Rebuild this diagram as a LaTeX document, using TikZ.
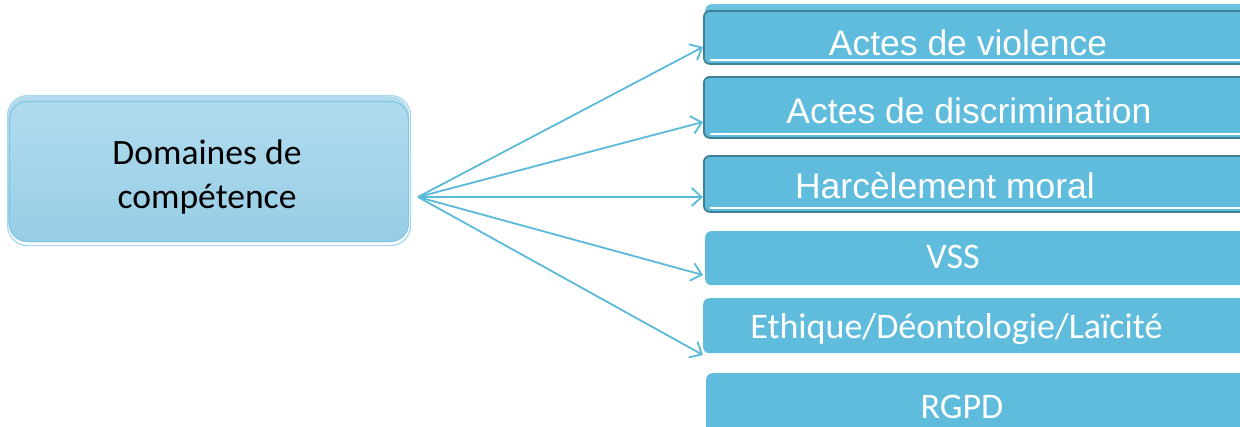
\documentclass[tikz,border=0pt]{standalone}
\usepackage{fontspec}
\setmainfont{Carlito}
\newfontfamily\arialf{Liberation Sans}
\usetikzlibrary{arrows.meta}
\definecolor{boxblue}{HTML}{5FBCDC}
\definecolor{boxdark}{HTML}{3E8096}
\definecolor{boxglow}{HTML}{6CC2E0}
\definecolor{arrowblue}{HTML}{5BB9DA}
\definecolor{srctop}{HTML}{B2DBED}
\definecolor{srcbot}{HTML}{96CEE6}
\definecolor{srcedge}{HTML}{7FC6E2}
\tikzset{
  srcbox/.style={rectangle, rounded corners=20pt, top color=srctop, bottom color=srcbot, draw=none, anchor=north west},
  srcline/.style={rectangle, rounded corners=18pt, draw=srcedge, line width=1pt, anchor=north west},
  srcglow/.style={rectangle, rounded corners=20pt, fill=white, draw=srcedge!70, line width=1.2pt, anchor=north west},
  darkbox/.style={rectangle, rounded corners=6pt, fill=boxblue, draw=boxdark, line width=1.8pt, anchor=north west},
  plainbox/.style={rectangle, rounded corners=6pt, fill=boxblue, draw=none, anchor=north west},
  glowbox/.style={rectangle, rounded corners=6pt, fill=boxglow, draw=none, anchor=north west},
  hilite/.style={draw=white, line width=1.2pt},
  arialtxt/.style={text=white, font=\arialf\fontsize{35.5pt}{40pt}\selectfont, anchor=base, inner sep=0pt},
  calitxt/.style={text=white, font=\fontsize{36pt}{42pt}\selectfont, anchor=base, inner sep=0pt},
  srctxt/.style={text=black, font=\fontsize{35.6pt}{44pt}\selectfont, align=center, inner sep=0pt},
  conn/.style={draw=arrowblue, line width=1.8pt, -{Straight Barb[length=10pt,width=18pt,line width=1.8pt]}}
}
\begin{document}
\begin{tikzpicture}[x=1pt,y=-1pt]
\useasboundingbox (0,0) rectangle (1240,426);
\clip (0,0) rectangle (1240,426);
\fill[white] (0,0) rectangle (1240,426);
% source box
\node[srcglow, minimum width=403pt, minimum height=150pt] (srcg) at (7,95) {};
\node[srcbox, minimum width=401pt, minimum height=146pt] (src) at (8,96) {};
\node[srcline, minimum width=399pt, minimum height=140pt] (srcl) at (9,101) {};
\node[srctxt] (srct) at (207,177) {Domaines de\\compétence};
% target boxes
\node[glowbox, minimum width=545pt, minimum height=50pt] (g1) at (705,4) {};
\node[darkbox, minimum width=550pt, minimum height=53pt] (b1) at (703,10) {};
\draw[hilite] (710,60) -- (1245,60);
\node[darkbox, minimum width=550pt, minimum height=61pt] (b2) at (703,76) {};
\draw[hilite] (710,134) -- (1245,134);
\node[darkbox, minimum width=550pt, minimum height=56pt] (b3) at (703,155) {};
\draw[hilite] (710,208) -- (1245,208);
\node[plainbox, minimum width=550pt, minimum height=54pt] (b4) at (705,231) {};
\node[plainbox, minimum width=550pt, minimum height=55pt] (b5) at (703,298) {};
\node[plainbox, minimum width=550pt, minimum height=70pt] (b6) at (706,373) {};
% texts
\node[arialtxt] (t1) at (968,55) {Actes de violence};
\node[arialtxt] (t2) at (969,123) {Actes de discrimination};
\node[arialtxt] (t3) at (945,198) {Harcèlement moral};
\node[calitxt] (t4) at (953,268) {VSS};
\node[calitxt] (t5) at (956.5,338) {Ethique/Déontologie/Laïcité};
\node[calitxt] (t6) at (962,418) {RGPD};
% connectors
\coordinate (s) at (418,197);
\coordinate (e1) at (703,47);
\coordinate (e2) at (703,122);
\coordinate (e3) at (703,197);
\coordinate (e4) at (703,275);
\coordinate (e5) at (703,355);
\draw[conn] (s) -- (e1);
\draw[conn] (s) -- (e2);
\draw[conn] (s) -- (e3);
\draw[conn] (s) -- (e4);
\draw[conn] (s) -- (e5);
\end{tikzpicture}
\end{document}
